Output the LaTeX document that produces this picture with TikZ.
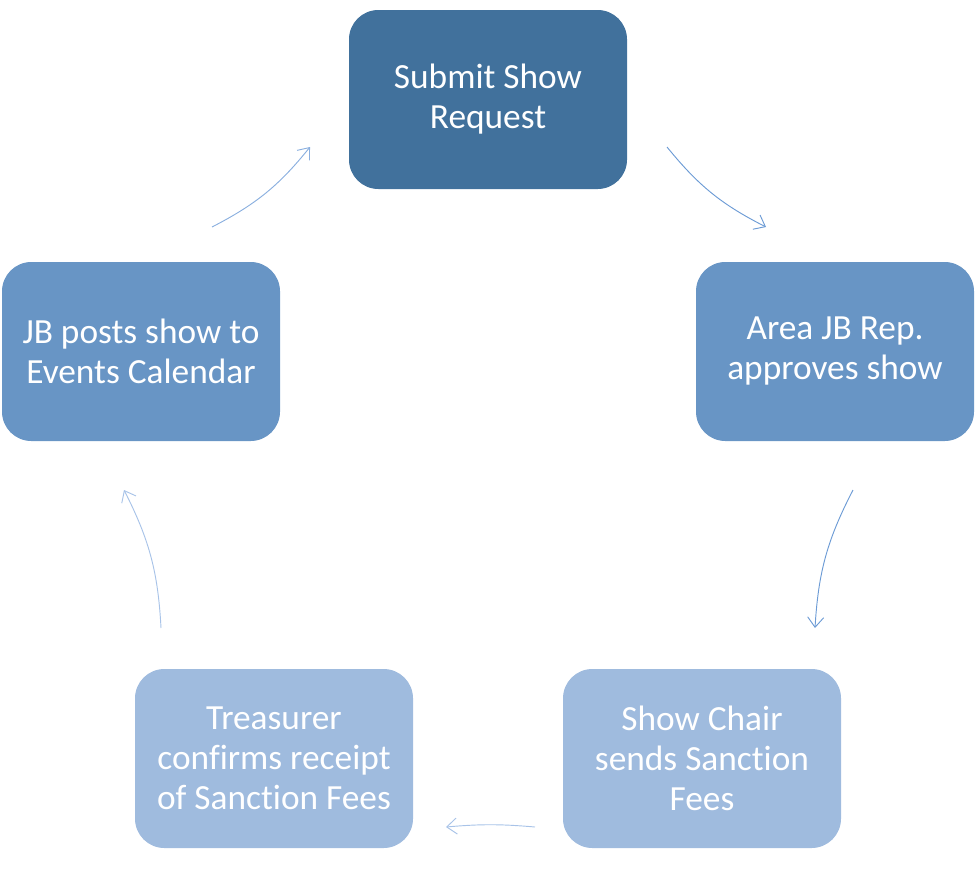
\documentclass[tikz,border=0pt]{standalone}
\usepackage{fontspec}
\setmainfont[Ligatures={NoCommon}]{Carlito}
\usetikzlibrary{arrows.meta}
\definecolor{stepdark}{HTML}{41719C}
\definecolor{stepmid}{HTML}{6895C5}
\definecolor{steplight}{HTML}{9FBBDE}
\definecolor{arrowmid}{HTML}{6C9BD5}
\definecolor{arrowlight}{HTML}{A8C3E8}
\definecolor{arrowsoft}{HTML}{8AAFDF}
\tikzset{
  stepbox/.style={rounded corners=22pt, minimum width=208.5pt, minimum height=134.25pt,
    align=center, text=white, font=\fontsize{26.5}{30}\selectfont, inner sep=0pt},
  cyclearrow/.style={line width=0.7pt, -{Straight Barb[length=7.5pt, width=12pt]}}
}
\begin{document}
\begin{tikzpicture}[x=0.75pt, y=-0.75pt]
\useasboundingbox (0,0) rectangle (977,871);

% Pasos del ciclo
\node [stepbox, fill=stepdark] (submit) at (488,99.5) {Submit Show\\Request};
\node [stepbox, fill=stepmid] (approve) at (835,351.5) {Area JB Rep.\\approves show};
\node [stepbox, fill=steplight] (fees) at (702,758.5) {Show Chair\\sends Sanction\\Fees};
\node [stepbox, fill=steplight] (receipt) at (274,758.5) {Treasurer\\confirms receipt\\of Sanction Fees};
\node [stepbox, fill=stepmid] (calendar) at (141,351.5) {JB posts show to\\Events Calendar};

% Extremos de las flechas
\coordinate (a1) at (667,147);  \coordinate (b1) at (766,227);
\coordinate (a2) at (853,490);  \coordinate (b2) at (815,628);
\coordinate (a3) at (535,827);  \coordinate (b3) at (446,827);
\coordinate (a4) at (161,628);  \coordinate (b4) at (124,490);
\coordinate (a5) at (212,227);  \coordinate (b5) at (310,147);

% Flechas
\draw [cyclearrow, arrowmid] (a1) to[bend right=12] (b1);
\draw [cyclearrow, arrowmid] (a2) to[bend right=12] (b2);
\draw [cyclearrow, arrowlight] (a3) to[bend right=5] (b3);
\draw [cyclearrow, arrowlight] (a4) to[bend right=12] (b4);
\draw [cyclearrow, arrowsoft] (a5) to[bend right=12] (b5);
\end{tikzpicture}
\end{document}
